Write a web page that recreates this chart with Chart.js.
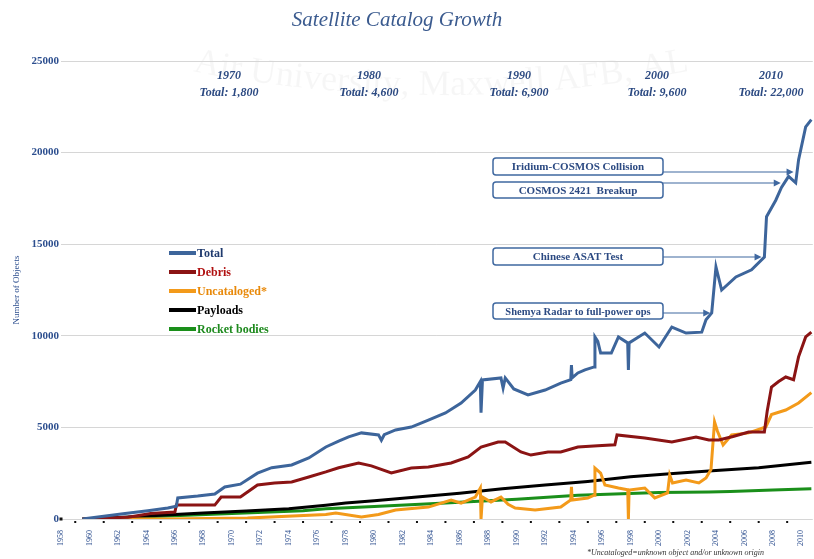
<!DOCTYPE html>
<html>
<head>
<meta charset="utf-8">
<title>Satellite Catalog Growth</title>
<script src="https://cdn.jsdelivr.net/npm/chart.js@4/dist/chart.umd.min.js"></script>
<style>
  body { margin: 0; background: #fff; }
  #wrap { width: 814px; height: 559px; position: relative; }
</style>
</head>
<body>
<div id="wrap"><canvas id="chart"></canvas></div>
<script>
// x axis tick labels (years)
const tickYears = [1958, 1960, 1962, 1964, 1966, 1968, 1970, 1972, 1974, 1976, 1978, 1980, 1982,
  1984, 1986, 1988, 1990, 1992, 1994, 1996, 1998, 2000, 2002, 2004, 2006, 2008, 2010];
const yTicks = [0, 5000, 10000, 15000, 20000, 25000];

// series as [year, objects]
const total = [[1959.5,0],[1962.5,300],[1964.1,450],[1965.5,600],[1966.1,700],[1966.2,1150],[1967.6,1250],
  [1968.8,1365],[1969.5,1750],[1970.6,1900],[1971.8,2500],[1972.8,2800],[1974.2,2950],[1975.4,3330],
  [1976.6,3930],[1977.5,4250],[1978.2,4480],[1979.1,4700],[1980.3,4590],[1980.5,4300],[1980.7,4600],
  [1981.5,4860],[1982.6,5020],[1983.8,5400],[1985.0,5790],[1986.1,6330],[1987.1,7040],[1987.45,7500],
  [1987.5,5800],[1987.6,7590],[1988.9,7700],[1989.05,7150],[1989.2,7700],[1989.8,7100],[1990.8,6770],
  [1992.0,7040],[1993.1,7420],[1993.8,7600],[1993.85,8400],[1993.9,7700],[1994.3,7970],[1994.8,8140],
  [1995.45,8300],[1995.5,9940],[1995.7,9700],[1995.9,9060],[1996.65,9060],[1997.15,9940],[1997.8,9610],
  [1997.85,8140],[1997.9,9610],[1999.0,10150],[2000.0,9390],[2000.9,10480],[2001.9,10150],[2003.0,10200],
  [2003.3,10870],[2003.7,11250],[2004.0,13760],[2004.4,12500],[2005.4,13210],[2006.5,13600],[2007.4,14300],
  [2007.55,16500],[2008.2,17400],[2008.6,18100],[2009.1,18700],[2009.6,18350],[2009.8,19600],[2010.3,21400],
  [2010.7,21800]];
const debris = [[1959.5,0],[1962.7,100],[1964.3,300],[1966.0,380],[1966.1,760],[1968.8,760],[1969.25,1200],
  [1970.6,1200],[1971.8,1860],[1973.0,1970],[1974.2,2020],[1975.4,2290],[1976.6,2570],[1977.5,2800],
  [1978.9,3060],[1979.8,2900],[1981.2,2510],[1982.6,2780],[1983.8,2840],[1985.4,3060],[1986.6,3390],
  [1987.5,3930],[1988.7,4200],[1989.2,4200],[1990.3,3660],[1991.0,3490],[1992.2,3660],[1993.1,3660],
  [1994.3,3930],[1995.7,4000],[1996.9,4050],[1997.05,4590],[1999.0,4420],[2000.9,4200],[2002.6,4480],
  [2003.5,4310],[2004.2,4310],[2005.2,4500],[2006.3,4750],[2007.4,4750],[2007.6,5900],[2007.9,7200],
  [2008.4,7500],[2008.9,7750],[2009.45,7600],[2009.8,8850],[2010.3,9940],[2010.7,10200]];
const uncataloged = [[1959.5,0],[1965.5,0],[1971.1,50],[1976.6,250],[1977.3,330],[1979.1,110],[1980.3,250],
  [1981.5,490],[1983.8,650],[1985.4,1040],[1986.1,870],[1987.1,1200],[1987.45,1690],[1987.5,0],[1987.6,1200],
  [1988.2,930],[1988.9,1200],[1989.4,800],[1989.9,600],[1991.3,490],[1993.1,650],[1993.8,1040],[1993.85,1750],
  [1993.9,1040],[1995.0,1150],[1995.45,1300],[1995.5,2780],[1995.9,2510],[1996.2,1860],[1997.15,1690],
  [1997.8,1600],[1997.85,0],[1997.9,1580],[1999.0,1690],[1999.7,1150],[2000.6,1420],[2000.75,2400],
  [2000.95,1970],[2001.9,2130],[2002.8,1970],[2003.3,2240],[2003.65,2700],[2003.9,5300],[2004.1,4800],
  [2004.5,4040],[2005.1,4590],[2006.3,4700],[2007.5,5020],[2007.9,5700],[2008.9,5950],[2009.8,6330],
  [2010.7,6900]];
const payloads = [[1959.5,0],[1962,80],[1965,200],[1968,330],[1971,430],[1974,560],[1976.6,750],[1978,870],
  [1980,1000],[1983,1200],[1986,1400],[1989,1650],[1992,1850],[1995,2050],[1998,2300],[2001,2480],
  [2004,2650],[2007,2800],[2010.7,3100]];
const rocketBodies = [[1959.5,0],[1962,60],[1965,150],[1970,300],[1975,450],[1976.6,560],[1980,680],
  [1985,880],[1990,1080],[1994.3,1300],[2000,1450],[2003.5,1480],[2005,1500],[2008,1580],[2010.7,1650]];

// decade totals shown along the top
const decadeLabels = ['1970', '1980', '1990', '2000', '2010'];
const decadeTotals = ['Total: 1,800', 'Total: 4,600', 'Total: 6,900', 'Total: 9,600', 'Total: 22,000'];

// events pointed at by the arrows
const eventLabels = ['Iridium-COSMOS Collision', 'COSMOS 2421  Breakup', 'Chinese ASAT Test', 'Shemya Radar to full-power ops'];
const eventYears = [2009.45, 2008.55, 2007.2, 2003.6];

const toXY = arr => arr.map(p => ({ x: p[0], y: p[1] }));
const AXIS_BLUE = '#2d4f8f';
const SERIF = '"Liberation Serif", "DejaVu Serif", serif';

const decor = {
  id: 'decor',
  beforeDraw(chart) {
    const ctx = chart.ctx;
    ctx.save();
    // faint watermark along an arc
    const text = 'Air University, Maxwell AFB, AL';
    ctx.font = '36px ' + SERIF;
    ctx.fillStyle = 'rgba(0,0,0,0.035)';
    const R = 1300, cx = 440, cy = 95 - R;
    let off = -ctx.measureText(text).width / 2;
    for (const ch of text) {
      const th = off / R;
      ctx.save();
      ctx.translate(cx + R * Math.sin(th), cy + R * Math.cos(th));
      ctx.rotate(-th);
      ctx.fillText(ch, 0, 0);
      ctx.restore();
      off += ctx.measureText(ch).width;
    }
    ctx.restore();
  },
  afterDraw(chart) {
    const ctx = chart.ctx;
    const xs = chart.scales.x;
    const area = chart.chartArea;
    ctx.save();

    // title
    ctx.fillStyle = '#3b5b8f';
    ctx.font = 'italic 21px ' + SERIF;
    ctx.textAlign = 'center';
    ctx.textBaseline = 'middle';
    ctx.fillText('Satellite Catalog Growth', 397, 20);

    // decade totals
    const decX = [229, 369, 519, 657, 771];
    ctx.fillStyle = '#2c4a82';
    ctx.font = 'bold italic 12px ' + SERIF;
    decadeLabels.forEach((d, i) => {
      ctx.fillText(d, decX[i], 76);
      ctx.fillText(decadeTotals[i], decX[i], 93);
    });

    // year dots under the axis
    ctx.fillStyle = '#111';
    for (let yr = 1959; yr <= 2009; yr += 2) {
      const px = xs.getPixelForValue(yr);
      ctx.fillRect(px - 1, area.bottom + 2, 2, 2);
    }
    ctx.fillRect(xs.getPixelForValue(1958) - 1.5, area.bottom - 1.5, 3, 3);

    // legend
    const legendText = ['#1f3a6e', '#b01010', '#e8890a', '#000000', '#1e8a1e'];
    const ly = [253, 272, 291, 310, 329];
    ctx.textAlign = 'left';
    ctx.font = 'bold 12px ' + SERIF;
    chart.data.datasets.forEach((ds, i) => {
      ctx.strokeStyle = ds.borderColor;
      ctx.lineWidth = 4;
      ctx.beginPath();
      ctx.moveTo(169, ly[i]);
      ctx.lineTo(196, ly[i]);
      ctx.stroke();
      ctx.fillStyle = legendText[i];
      ctx.fillText(ds.label, 197, ly[i] + 1);
    });

    // event boxes and arrows
    const boxTop = [158, 182, 248, 303];
    const boxH = [17, 16, 17, 16];
    const arrowY = [172, 183, 257, 313];
    eventLabels.forEach((lab, i) => {
      const bx = 493, bw = 170;
      ctx.fillStyle = '#fff';
      ctx.strokeStyle = '#3f68a0';
      ctx.lineWidth = 1.5;
      ctx.beginPath();
      ctx.roundRect(bx, boxTop[i], bw, boxH[i], 3);
      ctx.fill();
      ctx.stroke();
      ctx.fillStyle = '#2c4a82';
      ctx.textAlign = 'center';
      ctx.font = (i === 3 ? 'bold 10.5px ' : 'bold 11px ') + SERIF;
      ctx.fillText(lab, bx + bw / 2, boxTop[i] + boxH[i] / 2 + 1);
      const tip = xs.getPixelForValue(eventYears[i]);
      ctx.strokeStyle = '#3f68a0';
      ctx.lineWidth = 1.2;
      ctx.beginPath();
      ctx.moveTo(bx + bw, arrowY[i]);
      ctx.lineTo(tip - 5, arrowY[i]);
      ctx.stroke();
      ctx.fillStyle = '#3f68a0';
      ctx.beginPath();
      ctx.moveTo(tip, arrowY[i]);
      ctx.lineTo(tip - 7, arrowY[i] - 3.5);
      ctx.lineTo(tip - 7, arrowY[i] + 3.5);
      ctx.closePath();
      ctx.fill();
    });

    // footnote
    ctx.fillStyle = '#333';
    ctx.textAlign = 'left';
    ctx.font = 'italic 8px ' + SERIF;
    ctx.fillText('*Uncataloged=unknown object and/or unknown origin', 587, 553);
    ctx.restore();
  }
};

const line = (label, data, color, width) => ({
  label, data: toXY(data), borderColor: color, backgroundColor: color,
  borderWidth: width, pointRadius: 0, tension: 0, fill: false
});

new Chart(document.getElementById('chart'), {
  type: 'line',
  data: {
    datasets: [
      line('Total', total, '#3d659b', 3),
      line('Debris', debris, '#8b1414', 3),
      line('Uncataloged*', uncataloged, '#f39a1a', 3),
      line('Payloads', payloads, '#000000', 3),
      line('Rocket bodies', rocketBodies, '#1a8f1a', 3)
    ]
  },
  options: {
    responsive: true,
    maintainAspectRatio: false,
    animation: false,
    layout: { padding: { top: 61, right: 0, left: 0, bottom: 0 } },
    plugins: { legend: { display: false }, tooltip: { enabled: false } },
    scales: {
      x: {
        type: 'linear',
        min: 1958,
        max: 2010.8,
        afterBuildTicks: s => { s.ticks = tickYears.map(v => ({ value: v })); },
        afterFit: s => { s.height = 40; },
        grid: { display: false },
        border: { display: false },
        ticks: {
          minRotation: 90, maxRotation: 90, padding: 3, autoSkip: false,
          color: AXIS_BLUE, font: { family: SERIF, size: 8 },
          callback: v => String(v)
        }
      },
      y: {
        min: 0,
        max: 25000,
        afterBuildTicks: s => { s.ticks = yTicks.map(v => ({ value: v })); },
        afterFit: s => { s.width = 61; },
        grid: { color: '#d6d6d6', drawTicks: false },
        border: { display: false },
        ticks: {
          padding: 2, color: AXIS_BLUE,
          font: { family: SERIF, size: 11, weight: 'bold' },
          callback: v => String(v)
        },
        title: {
          display: true, text: 'Number of Objects', color: AXIS_BLUE,
          font: { family: SERIF, size: 9 }, padding: { top: 11, bottom: 0 }
        }
      }
    }
  },
  plugins: [decor]
});
</script>
</body>
</html>
